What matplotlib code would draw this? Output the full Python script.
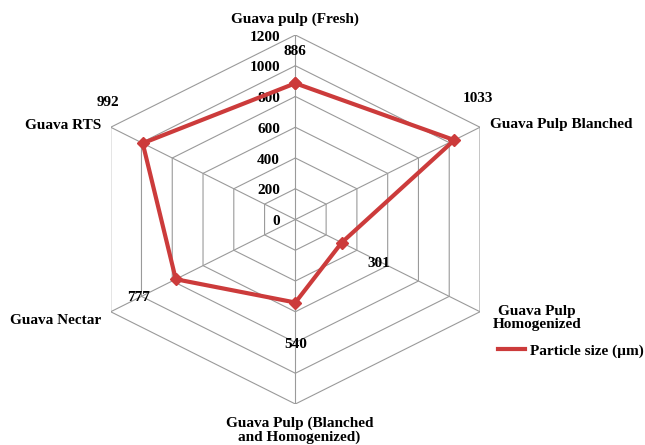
import numpy as np
import matplotlib
matplotlib.use('Agg')
import matplotlib.pyplot as plt

# Categories and values
categories = ['Guava pulp (Fresh)', 'Guava Pulp Blanched', 'Guava Pulp\nHomogenized',
              'Guava Pulp (Blanched\nand Homogenized)', 'Guava Nectar', 'Guava RTS']
values = [886, 1033, 301, 540, 777, 992]
ticks = [0, 200, 400, 600, 800, 1000, 1200]
series_name = 'Particle size (\u00b5m)'

rmax = 1200
n = len(categories)
# angles clockwise from the top
angles = np.deg2rad(90 - np.arange(n) * 360 / n)

plt.rcParams['font.family'] = ['Liberation Serif', 'DejaVu Serif']
plt.rcParams['font.weight'] = 'bold'
plt.rcParams['font.size'] = 11

fig = plt.figure(figsize=(6.45, 4.45), dpi=100)
ax = fig.add_axes([110.7 / 645, 41 / 445, 369.3 / 645, 369 / 445])
ax.set_xlim(-rmax * np.cos(np.pi / 6), rmax * np.cos(np.pi / 6))
ax.set_ylim(-rmax, rmax)
ax.axis('off')


def to_xy(r, a):
    return r * np.cos(a), r * np.sin(a)


grid_color = '#9a9a9a'
# hexagon grid
for t in ticks[1:]:
    gx, gy = to_xy(t, np.append(angles, angles[0]))
    ax.plot(gx, gy, color=grid_color, lw=0.8, zorder=1)
# spokes
for a in angles:
    sx, sy = to_xy(np.array([0, rmax]), a)
    ax.plot(sx, sy, color=grid_color, lw=0.8, zorder=1)

# tick labels along the vertical spoke
for t in ticks:
    ax.annotate(str(t), (0, t), xytext=(-11, -1.5), textcoords='offset points',
                ha='right', va='center')

# series
red = '#CC3B3B'
px, py = to_xy(np.array(values), angles)
ax.plot(np.append(px, px[0]), np.append(py, py[0]), color=red, lw=3,
        marker='D', markersize=6, zorder=3, label=series_name)

# data labels
label_offsets = [(0, 23), (17, 30), (27, -15), (0, -30), (-27, -13), (-25, 29)]
for x, y, v, off in zip(px, py, values, label_offsets):
    ax.annotate(str(v), (x, y), xytext=off, textcoords='offset points',
                ha='center', va='center')

# category labels
cat_offsets = [(0, 11), (7, 2), (41, -4.5), (3, -19), (-7, -6), (-7, 1)]
cat_ha = ['center', 'left', 'center', 'center', 'right', 'right']
ox, oy = to_xy(rmax, angles)
for x, y, c, off, ha in zip(ox, oy, categories, cat_offsets, cat_ha):
    ax.annotate(c, (x, y), xytext=off, textcoords='offset points',
                ha=ha, va='center', linespacing=1.0,
                annotation_clip=False)

leg = ax.legend(loc='center left', bbox_to_anchor=(498 / 645, 1 - 351 / 445),
                bbox_transform=fig.transFigure, frameon=False, borderpad=0,
                borderaxespad=0, handlelength=1.75, handletextpad=0.33)
for h in leg.legend_handles:
    h.set_marker('')

fig.savefig('out.png', dpi=100)
